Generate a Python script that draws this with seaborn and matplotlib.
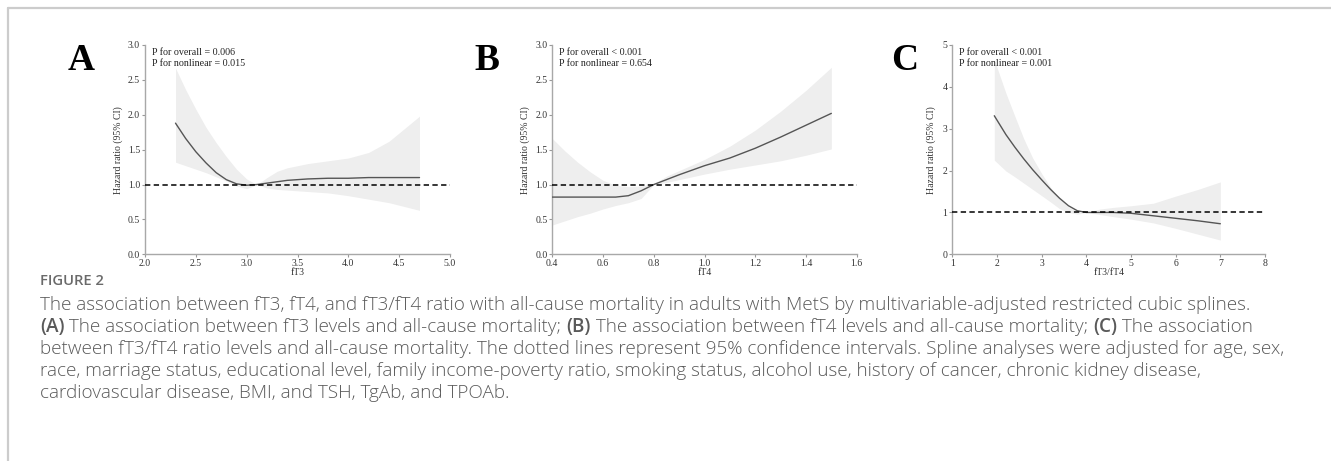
import matplotlib
matplotlib.use("Agg")
import matplotlib.pyplot as plt
import seaborn as sns
import numpy as np
import pandas as pd
from matplotlib.transforms import IdentityTransform

sns.set_style("ticks")
plt.rcParams['font.family'] = ['Liberation Serif', 'DejaVu Serif']

# ---- data (restricted cubic splines) ----
ft3_x = [2.30, 2.40, 2.50, 2.60, 2.70, 2.80, 2.90, 3.00, 3.10, 3.20, 3.30, 3.40, 3.60, 3.80, 4.00, 4.20, 4.40, 4.70]
ft3_hr = [1.88, 1.66, 1.47, 1.31, 1.17, 1.07, 1.01, 0.99, 1.00, 1.02, 1.04, 1.06, 1.08, 1.09, 1.09, 1.10, 1.10, 1.10]
ft3_hi = [2.67, 2.36, 2.08, 1.82, 1.60, 1.40, 1.22, 1.08, 1.00, 1.10, 1.19, 1.24, 1.30, 1.34, 1.38, 1.46, 1.62, 1.98]
ft3_lo = [1.32, 1.27, 1.22, 1.17, 1.11, 1.05, 0.98, 0.94, 1.00, 0.95, 0.93, 0.92, 0.90, 0.88, 0.84, 0.79, 0.74, 0.63]

ft4_x = [0.40, 0.45, 0.50, 0.55, 0.60, 0.65, 0.70, 0.75, 0.80, 0.85, 0.90, 1.00, 1.10, 1.20, 1.30, 1.40, 1.50]
ft4_hr = [0.82, 0.82, 0.82, 0.82, 0.82, 0.82, 0.84, 0.91, 1.00, 1.07, 1.14, 1.27, 1.38, 1.52, 1.68, 1.85, 2.02]
ft4_hi = [1.66, 1.48, 1.32, 1.18, 1.06, 0.99, 0.97, 0.98, 1.01, 1.12, 1.20, 1.36, 1.55, 1.78, 2.05, 2.35, 2.68]
ft4_lo = [0.42, 0.48, 0.54, 0.59, 0.65, 0.70, 0.74, 0.80, 1.00, 1.03, 1.07, 1.15, 1.22, 1.28, 1.34, 1.42, 1.51]

ratio_x = [1.94, 2.20, 2.40, 2.60, 2.80, 3.00, 3.20, 3.40, 3.60, 3.80, 4.00, 4.30, 4.60, 5.00, 5.50, 6.00, 6.50, 7.00]
ratio_hr = [3.31, 2.86, 2.56, 2.28, 2.02, 1.78, 1.55, 1.34, 1.16, 1.04, 1.00, 1.00, 1.00, 0.98, 0.92, 0.86, 0.80, 0.73]
ratio_hi = [4.65, 3.85, 3.30, 2.76, 2.30, 1.93, 1.60, 1.33, 1.13, 1.02, 1.00, 1.08, 1.12, 1.16, 1.22, 1.39, 1.55, 1.73]
ratio_lo = [2.25, 1.99, 1.85, 1.70, 1.55, 1.40, 1.25, 1.09, 1.00, 0.96, 1.00, 0.95, 0.90, 0.84, 0.75, 0.62, 0.48, 0.34]

panels = [
    dict(letter='A', x=ft3_x, hr=ft3_hr, lo=ft3_lo, hi=ft3_hi, xlabel='fT3',
         xlim=(2.0, 5.0), xticks=[2.0, 2.5, 3.0, 3.5, 4.0, 4.5, 5.0], xfmt='{:.1f}',
         ylim=(0, 3), yticks=[0.0, 0.5, 1.0, 1.5, 2.0, 2.5, 3.0], yfmt='{:.1f}',
         ptext='P for overall = 0.006\nP for nonlinear = 0.015',
         rect=(145, 45, 450, 254.3), letter_x=81, ylab_x=123),
    dict(letter='B', x=ft4_x, hr=ft4_hr, lo=ft4_lo, hi=ft4_hi, xlabel='fT4',
         xlim=(0.4, 1.6), xticks=[0.4, 0.6, 0.8, 1.0, 1.2, 1.4, 1.6], xfmt='{:.1f}',
         ylim=(0, 3), yticks=[0.0, 0.5, 1.0, 1.5, 2.0, 2.5, 3.0], yfmt='{:.1f}',
         ptext='P for overall < 0.001\nP for nonlinear = 0.654',
         rect=(552.3, 45, 856.7, 254.3), letter_x=487, ylab_x=530),
    dict(letter='C', x=ratio_x, hr=ratio_hr, lo=ratio_lo, hi=ratio_hi, xlabel='fT3/fT4',
         xlim=(1, 8), xticks=[1, 2, 3, 4, 5, 6, 7, 8], xfmt='{:d}',
         ylim=(0, 5), yticks=[0, 1, 2, 3, 4, 5], yfmt='{:d}',
         ptext='P for overall < 0.001\nP for nonlinear = 0.001',
         rect=(952.3, 45, 1265, 254.3), letter_x=905, ylab_x=936),
]

W, H = 1331, 461
fig = plt.figure(figsize=(W / 100, H / 100), dpi=100)
fig.patch.set_facecolor('white')

# page frame (light gray border top and left)
fig.add_artist(plt.Line2D([8 / W, 1], [1 - 8 / H, 1 - 8 / H], transform=fig.transFigure, color='#cccccc', lw=1.6))
fig.add_artist(plt.Line2D([8 / W, 8 / W], [0, 1 - 8 / H], transform=fig.transFigure, color='#cccccc', lw=1.6))

for p in panels:
    x0, y0, x1, y1 = p['rect']
    ax = fig.add_axes([x0 / W, 1 - y1 / H, (x1 - x0) / W, (y1 - y0) / H])
    df = pd.DataFrame({'x': p['x'], 'hr': p['hr'], 'lo': p['lo'], 'hi': p['hi']})

    ax.fill_between(df['x'], df['lo'], df['hi'], color='#eeeeee', lw=0, zorder=1)
    sns.lineplot(data=df, x='x', y='hr', ax=ax, color='#555555', lw=1.0, zorder=3)
    ax.axhline(1, color='black', ls=(0, (3.5, 2.2)), lw=1.1, zorder=4)

    ax.set_xlim(*p['xlim'])
    ax.set_ylim(*p['ylim'])
    ax.set_xticks(p['xticks'])
    ax.set_yticks(p['yticks'])
    ax.set_xticklabels([p['xfmt'].format(v) for v in p['xticks']])
    ax.set_yticklabels([p['yfmt'].format(v) for v in p['yticks']])
    ax.tick_params(length=2.5, width=0.8, color='#999999', labelsize=7, labelcolor='#333333', pad=1)
    sns.despine(ax=ax)
    for s in ['left', 'bottom']:
        ax.spines[s].set_color('#a8a8a8')
        ax.spines[s].set_linewidth(1.0)

    ax.set_xlabel(p['xlabel'], fontsize=7, color='#333333')
    ax.xaxis.set_label_coords(0.5, -13.5 / (y1 - y0))
    ax.set_ylabel('Hazard ratio (95% CI)', fontsize=7, color='#333333')
    ax.yaxis.set_label_coords((p['ylab_x'] - x0) / (x1 - x0), 0.5)

    ax.text(7 / (x1 - x0), 1 - 3 / (y1 - y0), p['ptext'], transform=ax.transAxes,
            ha='left', va='top', fontsize=7.2, color='#222222', linespacing=1.25)

    fig.text(p['letter_x'] / W, 1 - 60 / H, p['letter'], ha='center', va='center',
             fontsize=27, fontweight='bold', color='black')

# ---- caption ----
cap_font = ['Open Sans', 'DejaVu Sans']
fig.text(40 / W, 1 - 281 / H, 'FIGURE 2', family=cap_font, fontsize=10.6,
         fontweight='semibold', color='#6a6a6a', va='center', ha='left')

caption_lines = [
    [('The association between fT3, fT4, and fT3/fT4 ratio with all-cause mortality in adults with MetS by multivariable-adjusted restricted cubic splines.', False)],
    [('(A)', True), (' The association between fT3 levels and all-cause mortality; ', False), ('(B)', True),
     (' The association between fT4 levels and all-cause mortality; ', False), ('(C)', True), (' The association', False)],
    [('between fT3/fT4 ratio levels and all-cause mortality. The dotted lines represent 95% confidence intervals. Spline analyses were adjusted for age, sex,', False)],
    [('race, marriage status, educational level, family income-poverty ratio, smoking status, alcohol use, history of cancer, chronic kidney disease,', False)],
    [('cardiovascular disease, BMI, and TSH, TgAb, and TPOAb.', False)],
]
line_y = [305, 327, 349, 371, 393]

renderer = fig.canvas.get_renderer()
for parts, yy in zip(caption_lines, line_y):
    xx = 40
    for txt, bold in parts:
        t = fig.text(xx, H - yy, txt, transform=IdentityTransform(), family=cap_font,
                     fontsize=13.6, fontweight='semibold' if bold else 'light',
                     color='#5a5a5a', va='center', ha='left')
        xx += t.get_window_extent(renderer=renderer).width

fig.savefig('out.png', dpi=100, facecolor='white')
